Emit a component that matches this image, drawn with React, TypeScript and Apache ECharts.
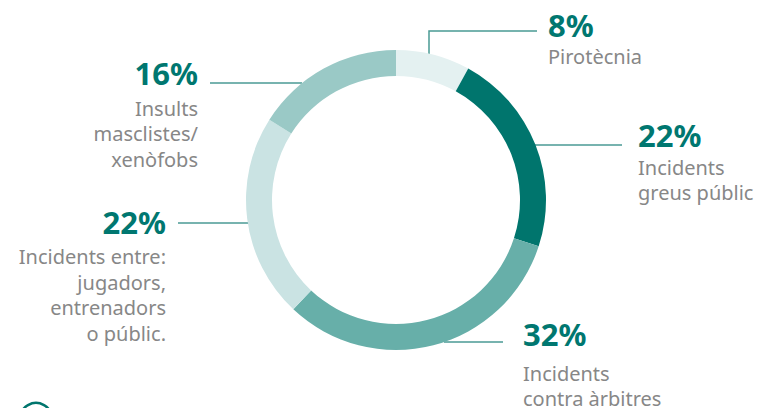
import React, { useEffect, useRef } from "react";
import * as echarts from "echarts";

const categories = ["Pirotècnia", "Incidents greus públic", "Incidents contra àrbitres", "Incidents entre: jugadors, entrenadors o públic.", "Insults masclistes/ xenòfobs"];
const values = [8, 22, 32, 22, 16];
const labelLines = [
  ["Pirotècnia"],
  ["Incidents", "greus públic"],
  ["Incidents", "contra àrbitres"],
  ["Incidents entre:", "jugadors,", "entrenadors", "o públic."],
  ["Insults", "masclistes/", "xenòfobs"],
];
const colors = ["#e4f1f1", "#00756d", "#67afa9", "#cae3e3", "#9ac9c6"];

// label layout: anchor x, align, percent center y, first name line center y, leader polyline
const layouts = [
  { x: 548, align: "left", py: 25, ny: 56, line: [[429, 54], [429, 31], [537, 31]] },
  { x: 638, align: "left", py: 135, ny: 167, line: [[535, 145], [622, 145]] },
  { x: 523, align: "left", py: 334, ny: 373, line: [[444, 342], [503, 342]] },
  { x: 166, align: "right", py: 222, ny: 256.5, line: [[178, 223], [249, 223]] },
  { x: 198, align: "right", py: 72.5, ny: 108, line: [[210, 83], [302, 83]] },
];
const NAME_LH = 25.5;
const FONT = "'Noto Sans', sans-serif";

export default function App() {
  const ref = useRef<HTMLDivElement>(null);
  useEffect(() => {
    if (!ref.current) return;
    const chart = echarts.init(ref.current, undefined, { renderer: "svg" });
    const graphics: any[] = [];
    layouts.forEach((l, i) => {
      graphics.push({
        type: "polyline",
        shape: { points: l.line },
        style: { stroke: "#4a9a94", lineWidth: 1.5, fill: null },
        silent: true,
      });
      graphics.push({
        type: "text",
        x: l.x,
        y: l.py,
        style: {
          text: values[i] + "%",
          font: `bold 31px ${FONT}`,
          fill: "#007770",
          align: l.align,
          verticalAlign: "middle",
        },
      });
      labelLines[i].forEach((t, k) => {
        graphics.push({
          type: "text",
          x: l.x,
          y: l.ny + k * NAME_LH,
          style: {
            text: t,
            font: `20px ${FONT}`,
            fill: "#878787",
            align: l.align,
            verticalAlign: "middle",
          },
        });
      });
    });
    graphics.push({
      type: "circle",
      shape: { cx: 36, cy: 419, r: 16 },
      style: { stroke: "#00756d", lineWidth: 2.5, fill: null },
    });
    chart.setOption({
      animation: false,
      series: [
        {
          type: "pie",
          center: [396, 200],
          radius: [124, 150],
          startAngle: 90,
          clockwise: true,
          label: { show: false },
          labelLine: { show: false },
          emphasis: { disabled: true },
          data: categories.map((c, i) => ({ name: c, value: values[i], itemStyle: { color: colors[i] } })),
        },
      ],
      graphic: graphics,
    });
    return () => chart.dispose();
  }, []);
  return <div ref={ref} style={{ position: "fixed", left: 0, top: 0, width: 760, height: 408, background: "#fff" }} />;
}
